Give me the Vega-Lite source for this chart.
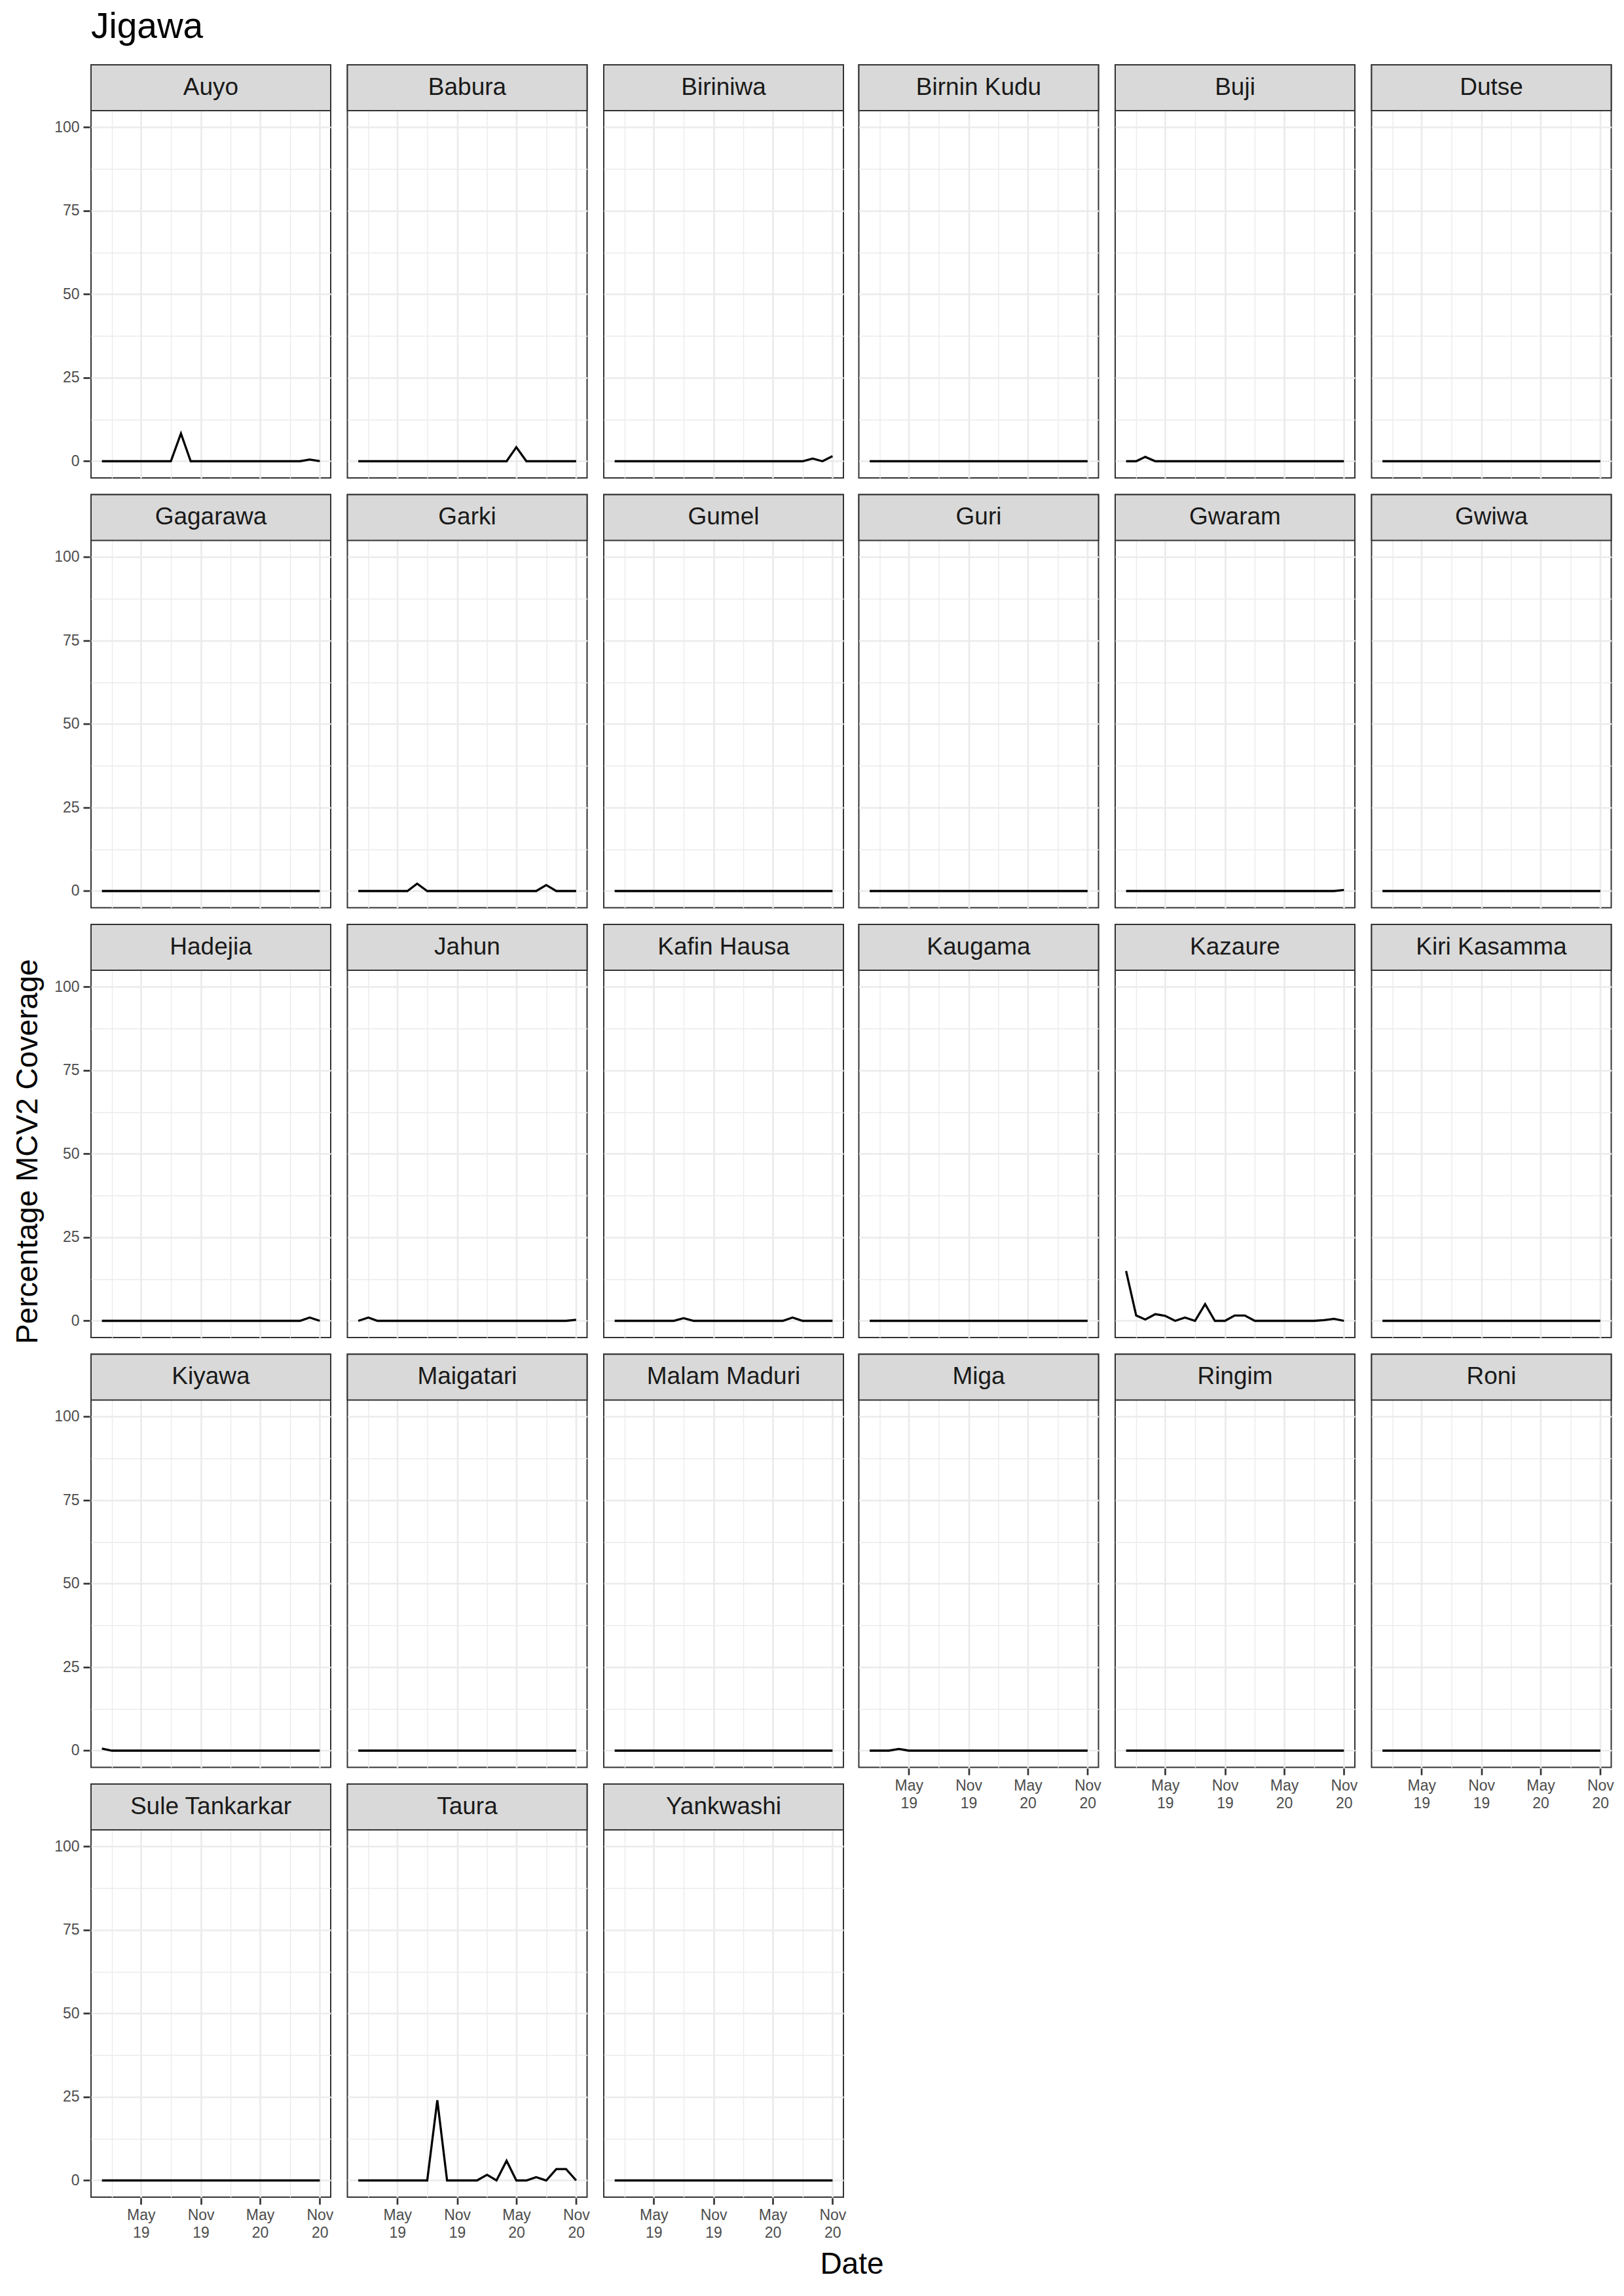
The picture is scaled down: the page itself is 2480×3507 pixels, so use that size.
{
"$schema": "https://vega.github.io/schema/vega-lite/v6.json",
"background": "white",
"padding": {"left": 19, "top": 14, "right": 20, "bottom": 10},
"title": {"text": "Jigawa", "anchor": "start", "frame": "group", "fontSize": 55, "font": "Liberation Sans", "fontWeight": "normal", "color": "#000000", "offset": 26},
"datasets": {"cov": [
{"district":"Auyo","date":"2019-01-01","value":0},{"district":"Auyo","date":"2019-02-01","value":0},{"district":"Auyo","date":"2019-03-01","value":0},{"district":"Auyo","date":"2019-04-01","value":0},{"district":"Auyo","date":"2019-05-01","value":0},{"district":"Auyo","date":"2019-06-01","value":0},{"district":"Auyo","date":"2019-07-01","value":0},{"district":"Auyo","date":"2019-08-01","value":0},{"district":"Auyo","date":"2019-09-01","value":8.3},{"district":"Auyo","date":"2019-10-01","value":0},{"district":"Auyo","date":"2019-11-01","value":0},{"district":"Auyo","date":"2019-12-01","value":0},{"district":"Auyo","date":"2020-01-01","value":0},{"district":"Auyo","date":"2020-02-01","value":0},{"district":"Auyo","date":"2020-03-01","value":0},{"district":"Auyo","date":"2020-04-01","value":0},{"district":"Auyo","date":"2020-05-01","value":0},{"district":"Auyo","date":"2020-06-01","value":0},{"district":"Auyo","date":"2020-07-01","value":0},{"district":"Auyo","date":"2020-08-01","value":0},{"district":"Auyo","date":"2020-09-01","value":0},{"district":"Auyo","date":"2020-10-01","value":0.5},{"district":"Auyo","date":"2020-11-01","value":0},
{"district":"Babura","date":"2019-01-01","value":0},{"district":"Babura","date":"2019-02-01","value":0},{"district":"Babura","date":"2019-03-01","value":0},{"district":"Babura","date":"2019-04-01","value":0},{"district":"Babura","date":"2019-05-01","value":0},{"district":"Babura","date":"2019-06-01","value":0},{"district":"Babura","date":"2019-07-01","value":0},{"district":"Babura","date":"2019-08-01","value":0},{"district":"Babura","date":"2019-09-01","value":0},{"district":"Babura","date":"2019-10-01","value":0},{"district":"Babura","date":"2019-11-01","value":0},{"district":"Babura","date":"2019-12-01","value":0},{"district":"Babura","date":"2020-01-01","value":0},{"district":"Babura","date":"2020-02-01","value":0},{"district":"Babura","date":"2020-03-01","value":0},{"district":"Babura","date":"2020-04-01","value":0},{"district":"Babura","date":"2020-05-01","value":4.2},{"district":"Babura","date":"2020-06-01","value":0},{"district":"Babura","date":"2020-07-01","value":0},{"district":"Babura","date":"2020-08-01","value":0},{"district":"Babura","date":"2020-09-01","value":0},{"district":"Babura","date":"2020-10-01","value":0},{"district":"Babura","date":"2020-11-01","value":0},
{"district":"Biriniwa","date":"2019-01-01","value":0},{"district":"Biriniwa","date":"2019-02-01","value":0},{"district":"Biriniwa","date":"2019-03-01","value":0},{"district":"Biriniwa","date":"2019-04-01","value":0},{"district":"Biriniwa","date":"2019-05-01","value":0},{"district":"Biriniwa","date":"2019-06-01","value":0},{"district":"Biriniwa","date":"2019-07-01","value":0},{"district":"Biriniwa","date":"2019-08-01","value":0},{"district":"Biriniwa","date":"2019-09-01","value":0},{"district":"Biriniwa","date":"2019-10-01","value":0},{"district":"Biriniwa","date":"2019-11-01","value":0},{"district":"Biriniwa","date":"2019-12-01","value":0},{"district":"Biriniwa","date":"2020-01-01","value":0},{"district":"Biriniwa","date":"2020-02-01","value":0},{"district":"Biriniwa","date":"2020-03-01","value":0},{"district":"Biriniwa","date":"2020-04-01","value":0},{"district":"Biriniwa","date":"2020-05-01","value":0},{"district":"Biriniwa","date":"2020-06-01","value":0},{"district":"Biriniwa","date":"2020-07-01","value":0},{"district":"Biriniwa","date":"2020-08-01","value":0},{"district":"Biriniwa","date":"2020-09-01","value":0.8},{"district":"Biriniwa","date":"2020-10-01","value":0},{"district":"Biriniwa","date":"2020-11-01","value":1.5},
{"district":"Birnin Kudu","date":"2019-01-01","value":0},{"district":"Birnin Kudu","date":"2019-02-01","value":0},{"district":"Birnin Kudu","date":"2019-03-01","value":0},{"district":"Birnin Kudu","date":"2019-04-01","value":0},{"district":"Birnin Kudu","date":"2019-05-01","value":0},{"district":"Birnin Kudu","date":"2019-06-01","value":0},{"district":"Birnin Kudu","date":"2019-07-01","value":0},{"district":"Birnin Kudu","date":"2019-08-01","value":0},{"district":"Birnin Kudu","date":"2019-09-01","value":0},{"district":"Birnin Kudu","date":"2019-10-01","value":0},{"district":"Birnin Kudu","date":"2019-11-01","value":0},{"district":"Birnin Kudu","date":"2019-12-01","value":0},{"district":"Birnin Kudu","date":"2020-01-01","value":0},{"district":"Birnin Kudu","date":"2020-02-01","value":0},{"district":"Birnin Kudu","date":"2020-03-01","value":0},{"district":"Birnin Kudu","date":"2020-04-01","value":0},{"district":"Birnin Kudu","date":"2020-05-01","value":0},{"district":"Birnin Kudu","date":"2020-06-01","value":0},{"district":"Birnin Kudu","date":"2020-07-01","value":0},{"district":"Birnin Kudu","date":"2020-08-01","value":0},{"district":"Birnin Kudu","date":"2020-09-01","value":0},{"district":"Birnin Kudu","date":"2020-10-01","value":0},{"district":"Birnin Kudu","date":"2020-11-01","value":0},
{"district":"Buji","date":"2019-01-01","value":0},{"district":"Buji","date":"2019-02-01","value":0},{"district":"Buji","date":"2019-03-01","value":1.3},{"district":"Buji","date":"2019-04-01","value":0},{"district":"Buji","date":"2019-05-01","value":0},{"district":"Buji","date":"2019-06-01","value":0},{"district":"Buji","date":"2019-07-01","value":0},{"district":"Buji","date":"2019-08-01","value":0},{"district":"Buji","date":"2019-09-01","value":0},{"district":"Buji","date":"2019-10-01","value":0},{"district":"Buji","date":"2019-11-01","value":0},{"district":"Buji","date":"2019-12-01","value":0},{"district":"Buji","date":"2020-01-01","value":0},{"district":"Buji","date":"2020-02-01","value":0},{"district":"Buji","date":"2020-03-01","value":0},{"district":"Buji","date":"2020-04-01","value":0},{"district":"Buji","date":"2020-05-01","value":0},{"district":"Buji","date":"2020-06-01","value":0},{"district":"Buji","date":"2020-07-01","value":0},{"district":"Buji","date":"2020-08-01","value":0},{"district":"Buji","date":"2020-09-01","value":0},{"district":"Buji","date":"2020-10-01","value":0},{"district":"Buji","date":"2020-11-01","value":0},
{"district":"Dutse","date":"2019-01-01","value":0},{"district":"Dutse","date":"2019-02-01","value":0},{"district":"Dutse","date":"2019-03-01","value":0},{"district":"Dutse","date":"2019-04-01","value":0},{"district":"Dutse","date":"2019-05-01","value":0},{"district":"Dutse","date":"2019-06-01","value":0},{"district":"Dutse","date":"2019-07-01","value":0},{"district":"Dutse","date":"2019-08-01","value":0},{"district":"Dutse","date":"2019-09-01","value":0},{"district":"Dutse","date":"2019-10-01","value":0},{"district":"Dutse","date":"2019-11-01","value":0},{"district":"Dutse","date":"2019-12-01","value":0},{"district":"Dutse","date":"2020-01-01","value":0},{"district":"Dutse","date":"2020-02-01","value":0},{"district":"Dutse","date":"2020-03-01","value":0},{"district":"Dutse","date":"2020-04-01","value":0},{"district":"Dutse","date":"2020-05-01","value":0},{"district":"Dutse","date":"2020-06-01","value":0},{"district":"Dutse","date":"2020-07-01","value":0},{"district":"Dutse","date":"2020-08-01","value":0},{"district":"Dutse","date":"2020-09-01","value":0},{"district":"Dutse","date":"2020-10-01","value":0},{"district":"Dutse","date":"2020-11-01","value":0},
{"district":"Gagarawa","date":"2019-01-01","value":0},{"district":"Gagarawa","date":"2019-02-01","value":0},{"district":"Gagarawa","date":"2019-03-01","value":0},{"district":"Gagarawa","date":"2019-04-01","value":0},{"district":"Gagarawa","date":"2019-05-01","value":0},{"district":"Gagarawa","date":"2019-06-01","value":0},{"district":"Gagarawa","date":"2019-07-01","value":0},{"district":"Gagarawa","date":"2019-08-01","value":0},{"district":"Gagarawa","date":"2019-09-01","value":0},{"district":"Gagarawa","date":"2019-10-01","value":0},{"district":"Gagarawa","date":"2019-11-01","value":0},{"district":"Gagarawa","date":"2019-12-01","value":0},{"district":"Gagarawa","date":"2020-01-01","value":0},{"district":"Gagarawa","date":"2020-02-01","value":0},{"district":"Gagarawa","date":"2020-03-01","value":0},{"district":"Gagarawa","date":"2020-04-01","value":0},{"district":"Gagarawa","date":"2020-05-01","value":0},{"district":"Gagarawa","date":"2020-06-01","value":0},{"district":"Gagarawa","date":"2020-07-01","value":0},{"district":"Gagarawa","date":"2020-08-01","value":0},{"district":"Gagarawa","date":"2020-09-01","value":0},{"district":"Gagarawa","date":"2020-10-01","value":0},{"district":"Gagarawa","date":"2020-11-01","value":0},
{"district":"Garki","date":"2019-01-01","value":0},{"district":"Garki","date":"2019-02-01","value":0},{"district":"Garki","date":"2019-03-01","value":0},{"district":"Garki","date":"2019-04-01","value":0},{"district":"Garki","date":"2019-05-01","value":0},{"district":"Garki","date":"2019-06-01","value":0},{"district":"Garki","date":"2019-07-01","value":2.2},{"district":"Garki","date":"2019-08-01","value":0},{"district":"Garki","date":"2019-09-01","value":0},{"district":"Garki","date":"2019-10-01","value":0},{"district":"Garki","date":"2019-11-01","value":0},{"district":"Garki","date":"2019-12-01","value":0},{"district":"Garki","date":"2020-01-01","value":0},{"district":"Garki","date":"2020-02-01","value":0},{"district":"Garki","date":"2020-03-01","value":0},{"district":"Garki","date":"2020-04-01","value":0},{"district":"Garki","date":"2020-05-01","value":0},{"district":"Garki","date":"2020-06-01","value":0},{"district":"Garki","date":"2020-07-01","value":0},{"district":"Garki","date":"2020-08-01","value":1.8},{"district":"Garki","date":"2020-09-01","value":0},{"district":"Garki","date":"2020-10-01","value":0},{"district":"Garki","date":"2020-11-01","value":0},
{"district":"Gumel","date":"2019-01-01","value":0},{"district":"Gumel","date":"2019-02-01","value":0},{"district":"Gumel","date":"2019-03-01","value":0},{"district":"Gumel","date":"2019-04-01","value":0},{"district":"Gumel","date":"2019-05-01","value":0},{"district":"Gumel","date":"2019-06-01","value":0},{"district":"Gumel","date":"2019-07-01","value":0},{"district":"Gumel","date":"2019-08-01","value":0},{"district":"Gumel","date":"2019-09-01","value":0},{"district":"Gumel","date":"2019-10-01","value":0},{"district":"Gumel","date":"2019-11-01","value":0},{"district":"Gumel","date":"2019-12-01","value":0},{"district":"Gumel","date":"2020-01-01","value":0},{"district":"Gumel","date":"2020-02-01","value":0},{"district":"Gumel","date":"2020-03-01","value":0},{"district":"Gumel","date":"2020-04-01","value":0},{"district":"Gumel","date":"2020-05-01","value":0},{"district":"Gumel","date":"2020-06-01","value":0},{"district":"Gumel","date":"2020-07-01","value":0},{"district":"Gumel","date":"2020-08-01","value":0},{"district":"Gumel","date":"2020-09-01","value":0},{"district":"Gumel","date":"2020-10-01","value":0},{"district":"Gumel","date":"2020-11-01","value":0},
{"district":"Guri","date":"2019-01-01","value":0},{"district":"Guri","date":"2019-02-01","value":0},{"district":"Guri","date":"2019-03-01","value":0},{"district":"Guri","date":"2019-04-01","value":0},{"district":"Guri","date":"2019-05-01","value":0},{"district":"Guri","date":"2019-06-01","value":0},{"district":"Guri","date":"2019-07-01","value":0},{"district":"Guri","date":"2019-08-01","value":0},{"district":"Guri","date":"2019-09-01","value":0},{"district":"Guri","date":"2019-10-01","value":0},{"district":"Guri","date":"2019-11-01","value":0},{"district":"Guri","date":"2019-12-01","value":0},{"district":"Guri","date":"2020-01-01","value":0},{"district":"Guri","date":"2020-02-01","value":0},{"district":"Guri","date":"2020-03-01","value":0},{"district":"Guri","date":"2020-04-01","value":0},{"district":"Guri","date":"2020-05-01","value":0},{"district":"Guri","date":"2020-06-01","value":0},{"district":"Guri","date":"2020-07-01","value":0},{"district":"Guri","date":"2020-08-01","value":0},{"district":"Guri","date":"2020-09-01","value":0},{"district":"Guri","date":"2020-10-01","value":0},{"district":"Guri","date":"2020-11-01","value":0},
{"district":"Gwaram","date":"2019-01-01","value":0},{"district":"Gwaram","date":"2019-02-01","value":0},{"district":"Gwaram","date":"2019-03-01","value":0},{"district":"Gwaram","date":"2019-04-01","value":0},{"district":"Gwaram","date":"2019-05-01","value":0},{"district":"Gwaram","date":"2019-06-01","value":0},{"district":"Gwaram","date":"2019-07-01","value":0},{"district":"Gwaram","date":"2019-08-01","value":0},{"district":"Gwaram","date":"2019-09-01","value":0},{"district":"Gwaram","date":"2019-10-01","value":0},{"district":"Gwaram","date":"2019-11-01","value":0},{"district":"Gwaram","date":"2019-12-01","value":0},{"district":"Gwaram","date":"2020-01-01","value":0},{"district":"Gwaram","date":"2020-02-01","value":0},{"district":"Gwaram","date":"2020-03-01","value":0},{"district":"Gwaram","date":"2020-04-01","value":0},{"district":"Gwaram","date":"2020-05-01","value":0},{"district":"Gwaram","date":"2020-06-01","value":0},{"district":"Gwaram","date":"2020-07-01","value":0},{"district":"Gwaram","date":"2020-08-01","value":0},{"district":"Gwaram","date":"2020-09-01","value":0},{"district":"Gwaram","date":"2020-10-01","value":0},{"district":"Gwaram","date":"2020-11-01","value":0.3},
{"district":"Gwiwa","date":"2019-01-01","value":0},{"district":"Gwiwa","date":"2019-02-01","value":0},{"district":"Gwiwa","date":"2019-03-01","value":0},{"district":"Gwiwa","date":"2019-04-01","value":0},{"district":"Gwiwa","date":"2019-05-01","value":0},{"district":"Gwiwa","date":"2019-06-01","value":0},{"district":"Gwiwa","date":"2019-07-01","value":0},{"district":"Gwiwa","date":"2019-08-01","value":0},{"district":"Gwiwa","date":"2019-09-01","value":0},{"district":"Gwiwa","date":"2019-10-01","value":0},{"district":"Gwiwa","date":"2019-11-01","value":0},{"district":"Gwiwa","date":"2019-12-01","value":0},{"district":"Gwiwa","date":"2020-01-01","value":0},{"district":"Gwiwa","date":"2020-02-01","value":0},{"district":"Gwiwa","date":"2020-03-01","value":0},{"district":"Gwiwa","date":"2020-04-01","value":0},{"district":"Gwiwa","date":"2020-05-01","value":0},{"district":"Gwiwa","date":"2020-06-01","value":0},{"district":"Gwiwa","date":"2020-07-01","value":0},{"district":"Gwiwa","date":"2020-08-01","value":0},{"district":"Gwiwa","date":"2020-09-01","value":0},{"district":"Gwiwa","date":"2020-10-01","value":0},{"district":"Gwiwa","date":"2020-11-01","value":0},
{"district":"Hadejia","date":"2019-01-01","value":0},{"district":"Hadejia","date":"2019-02-01","value":0},{"district":"Hadejia","date":"2019-03-01","value":0},{"district":"Hadejia","date":"2019-04-01","value":0},{"district":"Hadejia","date":"2019-05-01","value":0},{"district":"Hadejia","date":"2019-06-01","value":0},{"district":"Hadejia","date":"2019-07-01","value":0},{"district":"Hadejia","date":"2019-08-01","value":0},{"district":"Hadejia","date":"2019-09-01","value":0},{"district":"Hadejia","date":"2019-10-01","value":0},{"district":"Hadejia","date":"2019-11-01","value":0},{"district":"Hadejia","date":"2019-12-01","value":0},{"district":"Hadejia","date":"2020-01-01","value":0},{"district":"Hadejia","date":"2020-02-01","value":0},{"district":"Hadejia","date":"2020-03-01","value":0},{"district":"Hadejia","date":"2020-04-01","value":0},{"district":"Hadejia","date":"2020-05-01","value":0},{"district":"Hadejia","date":"2020-06-01","value":0},{"district":"Hadejia","date":"2020-07-01","value":0},{"district":"Hadejia","date":"2020-08-01","value":0},{"district":"Hadejia","date":"2020-09-01","value":0},{"district":"Hadejia","date":"2020-10-01","value":1.0},{"district":"Hadejia","date":"2020-11-01","value":0},
{"district":"Jahun","date":"2019-01-01","value":0},{"district":"Jahun","date":"2019-02-01","value":1.0},{"district":"Jahun","date":"2019-03-01","value":0},{"district":"Jahun","date":"2019-04-01","value":0},{"district":"Jahun","date":"2019-05-01","value":0},{"district":"Jahun","date":"2019-06-01","value":0},{"district":"Jahun","date":"2019-07-01","value":0},{"district":"Jahun","date":"2019-08-01","value":0},{"district":"Jahun","date":"2019-09-01","value":0},{"district":"Jahun","date":"2019-10-01","value":0},{"district":"Jahun","date":"2019-11-01","value":0},{"district":"Jahun","date":"2019-12-01","value":0},{"district":"Jahun","date":"2020-01-01","value":0},{"district":"Jahun","date":"2020-02-01","value":0},{"district":"Jahun","date":"2020-03-01","value":0},{"district":"Jahun","date":"2020-04-01","value":0},{"district":"Jahun","date":"2020-05-01","value":0},{"district":"Jahun","date":"2020-06-01","value":0},{"district":"Jahun","date":"2020-07-01","value":0},{"district":"Jahun","date":"2020-08-01","value":0},{"district":"Jahun","date":"2020-09-01","value":0},{"district":"Jahun","date":"2020-10-01","value":0},{"district":"Jahun","date":"2020-11-01","value":0.3},
{"district":"Kafin Hausa","date":"2019-01-01","value":0},{"district":"Kafin Hausa","date":"2019-02-01","value":0},{"district":"Kafin Hausa","date":"2019-03-01","value":0},{"district":"Kafin Hausa","date":"2019-04-01","value":0},{"district":"Kafin Hausa","date":"2019-05-01","value":0},{"district":"Kafin Hausa","date":"2019-06-01","value":0},{"district":"Kafin Hausa","date":"2019-07-01","value":0},{"district":"Kafin Hausa","date":"2019-08-01","value":0.8},{"district":"Kafin Hausa","date":"2019-09-01","value":0},{"district":"Kafin Hausa","date":"2019-10-01","value":0},{"district":"Kafin Hausa","date":"2019-11-01","value":0},{"district":"Kafin Hausa","date":"2019-12-01","value":0},{"district":"Kafin Hausa","date":"2020-01-01","value":0},{"district":"Kafin Hausa","date":"2020-02-01","value":0},{"district":"Kafin Hausa","date":"2020-03-01","value":0},{"district":"Kafin Hausa","date":"2020-04-01","value":0},{"district":"Kafin Hausa","date":"2020-05-01","value":0},{"district":"Kafin Hausa","date":"2020-06-01","value":0},{"district":"Kafin Hausa","date":"2020-07-01","value":1.0},{"district":"Kafin Hausa","date":"2020-08-01","value":0},{"district":"Kafin Hausa","date":"2020-09-01","value":0},{"district":"Kafin Hausa","date":"2020-10-01","value":0},{"district":"Kafin Hausa","date":"2020-11-01","value":0},
{"district":"Kaugama","date":"2019-01-01","value":0},{"district":"Kaugama","date":"2019-02-01","value":0},{"district":"Kaugama","date":"2019-03-01","value":0},{"district":"Kaugama","date":"2019-04-01","value":0},{"district":"Kaugama","date":"2019-05-01","value":0},{"district":"Kaugama","date":"2019-06-01","value":0},{"district":"Kaugama","date":"2019-07-01","value":0},{"district":"Kaugama","date":"2019-08-01","value":0},{"district":"Kaugama","date":"2019-09-01","value":0},{"district":"Kaugama","date":"2019-10-01","value":0},{"district":"Kaugama","date":"2019-11-01","value":0},{"district":"Kaugama","date":"2019-12-01","value":0},{"district":"Kaugama","date":"2020-01-01","value":0},{"district":"Kaugama","date":"2020-02-01","value":0},{"district":"Kaugama","date":"2020-03-01","value":0},{"district":"Kaugama","date":"2020-04-01","value":0},{"district":"Kaugama","date":"2020-05-01","value":0},{"district":"Kaugama","date":"2020-06-01","value":0},{"district":"Kaugama","date":"2020-07-01","value":0},{"district":"Kaugama","date":"2020-08-01","value":0},{"district":"Kaugama","date":"2020-09-01","value":0},{"district":"Kaugama","date":"2020-10-01","value":0},{"district":"Kaugama","date":"2020-11-01","value":0},
{"district":"Kazaure","date":"2019-01-01","value":14.9},{"district":"Kazaure","date":"2019-02-01","value":1.6},{"district":"Kazaure","date":"2019-03-01","value":0.4},{"district":"Kazaure","date":"2019-04-01","value":2.0},{"district":"Kazaure","date":"2019-05-01","value":1.5},{"district":"Kazaure","date":"2019-06-01","value":0},{"district":"Kazaure","date":"2019-07-01","value":1.0},{"district":"Kazaure","date":"2019-08-01","value":0},{"district":"Kazaure","date":"2019-09-01","value":5.0},{"district":"Kazaure","date":"2019-10-01","value":0},{"district":"Kazaure","date":"2019-11-01","value":0},{"district":"Kazaure","date":"2019-12-01","value":1.6},{"district":"Kazaure","date":"2020-01-01","value":1.6},{"district":"Kazaure","date":"2020-02-01","value":0},{"district":"Kazaure","date":"2020-03-01","value":0},{"district":"Kazaure","date":"2020-04-01","value":0},{"district":"Kazaure","date":"2020-05-01","value":0},{"district":"Kazaure","date":"2020-06-01","value":0},{"district":"Kazaure","date":"2020-07-01","value":0},{"district":"Kazaure","date":"2020-08-01","value":0},{"district":"Kazaure","date":"2020-09-01","value":0.2},{"district":"Kazaure","date":"2020-10-01","value":0.6},{"district":"Kazaure","date":"2020-11-01","value":0},
{"district":"Kiri Kasamma","date":"2019-01-01","value":0},{"district":"Kiri Kasamma","date":"2019-02-01","value":0},{"district":"Kiri Kasamma","date":"2019-03-01","value":0},{"district":"Kiri Kasamma","date":"2019-04-01","value":0},{"district":"Kiri Kasamma","date":"2019-05-01","value":0},{"district":"Kiri Kasamma","date":"2019-06-01","value":0},{"district":"Kiri Kasamma","date":"2019-07-01","value":0},{"district":"Kiri Kasamma","date":"2019-08-01","value":0},{"district":"Kiri Kasamma","date":"2019-09-01","value":0},{"district":"Kiri Kasamma","date":"2019-10-01","value":0},{"district":"Kiri Kasamma","date":"2019-11-01","value":0},{"district":"Kiri Kasamma","date":"2019-12-01","value":0},{"district":"Kiri Kasamma","date":"2020-01-01","value":0},{"district":"Kiri Kasamma","date":"2020-02-01","value":0},{"district":"Kiri Kasamma","date":"2020-03-01","value":0},{"district":"Kiri Kasamma","date":"2020-04-01","value":0},{"district":"Kiri Kasamma","date":"2020-05-01","value":0},{"district":"Kiri Kasamma","date":"2020-06-01","value":0},{"district":"Kiri Kasamma","date":"2020-07-01","value":0},{"district":"Kiri Kasamma","date":"2020-08-01","value":0},{"district":"Kiri Kasamma","date":"2020-09-01","value":0},{"district":"Kiri Kasamma","date":"2020-10-01","value":0},{"district":"Kiri Kasamma","date":"2020-11-01","value":0},
{"district":"Kiyawa","date":"2019-01-01","value":0.6},{"district":"Kiyawa","date":"2019-02-01","value":0},{"district":"Kiyawa","date":"2019-03-01","value":0},{"district":"Kiyawa","date":"2019-04-01","value":0},{"district":"Kiyawa","date":"2019-05-01","value":0},{"district":"Kiyawa","date":"2019-06-01","value":0},{"district":"Kiyawa","date":"2019-07-01","value":0},{"district":"Kiyawa","date":"2019-08-01","value":0},{"district":"Kiyawa","date":"2019-09-01","value":0},{"district":"Kiyawa","date":"2019-10-01","value":0},{"district":"Kiyawa","date":"2019-11-01","value":0},{"district":"Kiyawa","date":"2019-12-01","value":0},{"district":"Kiyawa","date":"2020-01-01","value":0},{"district":"Kiyawa","date":"2020-02-01","value":0},{"district":"Kiyawa","date":"2020-03-01","value":0},{"district":"Kiyawa","date":"2020-04-01","value":0},{"district":"Kiyawa","date":"2020-05-01","value":0},{"district":"Kiyawa","date":"2020-06-01","value":0},{"district":"Kiyawa","date":"2020-07-01","value":0},{"district":"Kiyawa","date":"2020-08-01","value":0},{"district":"Kiyawa","date":"2020-09-01","value":0},{"district":"Kiyawa","date":"2020-10-01","value":0},{"district":"Kiyawa","date":"2020-11-01","value":0},
{"district":"Maigatari","date":"2019-01-01","value":0},{"district":"Maigatari","date":"2019-02-01","value":0},{"district":"Maigatari","date":"2019-03-01","value":0},{"district":"Maigatari","date":"2019-04-01","value":0},{"district":"Maigatari","date":"2019-05-01","value":0},{"district":"Maigatari","date":"2019-06-01","value":0},{"district":"Maigatari","date":"2019-07-01","value":0},{"district":"Maigatari","date":"2019-08-01","value":0},{"district":"Maigatari","date":"2019-09-01","value":0},{"district":"Maigatari","date":"2019-10-01","value":0},{"district":"Maigatari","date":"2019-11-01","value":0},{"district":"Maigatari","date":"2019-12-01","value":0},{"district":"Maigatari","date":"2020-01-01","value":0},{"district":"Maigatari","date":"2020-02-01","value":0},{"district":"Maigatari","date":"2020-03-01","value":0},{"district":"Maigatari","date":"2020-04-01","value":0},{"district":"Maigatari","date":"2020-05-01","value":0},{"district":"Maigatari","date":"2020-06-01","value":0},{"district":"Maigatari","date":"2020-07-01","value":0},{"district":"Maigatari","date":"2020-08-01","value":0},{"district":"Maigatari","date":"2020-09-01","value":0},{"district":"Maigatari","date":"2020-10-01","value":0},{"district":"Maigatari","date":"2020-11-01","value":0},
{"district":"Malam Maduri","date":"2019-01-01","value":0},{"district":"Malam Maduri","date":"2019-02-01","value":0},{"district":"Malam Maduri","date":"2019-03-01","value":0},{"district":"Malam Maduri","date":"2019-04-01","value":0},{"district":"Malam Maduri","date":"2019-05-01","value":0},{"district":"Malam Maduri","date":"2019-06-01","value":0},{"district":"Malam Maduri","date":"2019-07-01","value":0},{"district":"Malam Maduri","date":"2019-08-01","value":0},{"district":"Malam Maduri","date":"2019-09-01","value":0},{"district":"Malam Maduri","date":"2019-10-01","value":0},{"district":"Malam Maduri","date":"2019-11-01","value":0},{"district":"Malam Maduri","date":"2019-12-01","value":0},{"district":"Malam Maduri","date":"2020-01-01","value":0},{"district":"Malam Maduri","date":"2020-02-01","value":0},{"district":"Malam Maduri","date":"2020-03-01","value":0},{"district":"Malam Maduri","date":"2020-04-01","value":0},{"district":"Malam Maduri","date":"2020-05-01","value":0},{"district":"Malam Maduri","date":"2020-06-01","value":0},{"district":"Malam Maduri","date":"2020-07-01","value":0},{"district":"Malam Maduri","date":"2020-08-01","value":0},{"district":"Malam Maduri","date":"2020-09-01","value":0},{"district":"Malam Maduri","date":"2020-10-01","value":0},{"district":"Malam Maduri","date":"2020-11-01","value":0},
{"district":"Miga","date":"2019-01-01","value":0},{"district":"Miga","date":"2019-02-01","value":0},{"district":"Miga","date":"2019-03-01","value":0},{"district":"Miga","date":"2019-04-01","value":0.5},{"district":"Miga","date":"2019-05-01","value":0},{"district":"Miga","date":"2019-06-01","value":0},{"district":"Miga","date":"2019-07-01","value":0},{"district":"Miga","date":"2019-08-01","value":0},{"district":"Miga","date":"2019-09-01","value":0},{"district":"Miga","date":"2019-10-01","value":0},{"district":"Miga","date":"2019-11-01","value":0},{"district":"Miga","date":"2019-12-01","value":0},{"district":"Miga","date":"2020-01-01","value":0},{"district":"Miga","date":"2020-02-01","value":0},{"district":"Miga","date":"2020-03-01","value":0},{"district":"Miga","date":"2020-04-01","value":0},{"district":"Miga","date":"2020-05-01","value":0},{"district":"Miga","date":"2020-06-01","value":0},{"district":"Miga","date":"2020-07-01","value":0},{"district":"Miga","date":"2020-08-01","value":0},{"district":"Miga","date":"2020-09-01","value":0},{"district":"Miga","date":"2020-10-01","value":0},{"district":"Miga","date":"2020-11-01","value":0},
{"district":"Ringim","date":"2019-01-01","value":0},{"district":"Ringim","date":"2019-02-01","value":0},{"district":"Ringim","date":"2019-03-01","value":0},{"district":"Ringim","date":"2019-04-01","value":0},{"district":"Ringim","date":"2019-05-01","value":0},{"district":"Ringim","date":"2019-06-01","value":0},{"district":"Ringim","date":"2019-07-01","value":0},{"district":"Ringim","date":"2019-08-01","value":0},{"district":"Ringim","date":"2019-09-01","value":0},{"district":"Ringim","date":"2019-10-01","value":0},{"district":"Ringim","date":"2019-11-01","value":0},{"district":"Ringim","date":"2019-12-01","value":0},{"district":"Ringim","date":"2020-01-01","value":0},{"district":"Ringim","date":"2020-02-01","value":0},{"district":"Ringim","date":"2020-03-01","value":0},{"district":"Ringim","date":"2020-04-01","value":0},{"district":"Ringim","date":"2020-05-01","value":0},{"district":"Ringim","date":"2020-06-01","value":0},{"district":"Ringim","date":"2020-07-01","value":0},{"district":"Ringim","date":"2020-08-01","value":0},{"district":"Ringim","date":"2020-09-01","value":0},{"district":"Ringim","date":"2020-10-01","value":0},{"district":"Ringim","date":"2020-11-01","value":0},
{"district":"Roni","date":"2019-01-01","value":0},{"district":"Roni","date":"2019-02-01","value":0},{"district":"Roni","date":"2019-03-01","value":0},{"district":"Roni","date":"2019-04-01","value":0},{"district":"Roni","date":"2019-05-01","value":0},{"district":"Roni","date":"2019-06-01","value":0},{"district":"Roni","date":"2019-07-01","value":0},{"district":"Roni","date":"2019-08-01","value":0},{"district":"Roni","date":"2019-09-01","value":0},{"district":"Roni","date":"2019-10-01","value":0},{"district":"Roni","date":"2019-11-01","value":0},{"district":"Roni","date":"2019-12-01","value":0},{"district":"Roni","date":"2020-01-01","value":0},{"district":"Roni","date":"2020-02-01","value":0},{"district":"Roni","date":"2020-03-01","value":0},{"district":"Roni","date":"2020-04-01","value":0},{"district":"Roni","date":"2020-05-01","value":0},{"district":"Roni","date":"2020-06-01","value":0},{"district":"Roni","date":"2020-07-01","value":0},{"district":"Roni","date":"2020-08-01","value":0},{"district":"Roni","date":"2020-09-01","value":0},{"district":"Roni","date":"2020-10-01","value":0},{"district":"Roni","date":"2020-11-01","value":0},
{"district":"Sule Tankarkar","date":"2019-01-01","value":0},{"district":"Sule Tankarkar","date":"2019-02-01","value":0},{"district":"Sule Tankarkar","date":"2019-03-01","value":0},{"district":"Sule Tankarkar","date":"2019-04-01","value":0},{"district":"Sule Tankarkar","date":"2019-05-01","value":0},{"district":"Sule Tankarkar","date":"2019-06-01","value":0},{"district":"Sule Tankarkar","date":"2019-07-01","value":0},{"district":"Sule Tankarkar","date":"2019-08-01","value":0},{"district":"Sule Tankarkar","date":"2019-09-01","value":0},{"district":"Sule Tankarkar","date":"2019-10-01","value":0},{"district":"Sule Tankarkar","date":"2019-11-01","value":0},{"district":"Sule Tankarkar","date":"2019-12-01","value":0},{"district":"Sule Tankarkar","date":"2020-01-01","value":0},{"district":"Sule Tankarkar","date":"2020-02-01","value":0},{"district":"Sule Tankarkar","date":"2020-03-01","value":0},{"district":"Sule Tankarkar","date":"2020-04-01","value":0},{"district":"Sule Tankarkar","date":"2020-05-01","value":0},{"district":"Sule Tankarkar","date":"2020-06-01","value":0},{"district":"Sule Tankarkar","date":"2020-07-01","value":0},{"district":"Sule Tankarkar","date":"2020-08-01","value":0},{"district":"Sule Tankarkar","date":"2020-09-01","value":0},{"district":"Sule Tankarkar","date":"2020-10-01","value":0},{"district":"Sule Tankarkar","date":"2020-11-01","value":0},
{"district":"Taura","date":"2019-01-01","value":0},{"district":"Taura","date":"2019-02-01","value":0},{"district":"Taura","date":"2019-03-01","value":0},{"district":"Taura","date":"2019-04-01","value":0},{"district":"Taura","date":"2019-05-01","value":0},{"district":"Taura","date":"2019-06-01","value":0},{"district":"Taura","date":"2019-07-01","value":0},{"district":"Taura","date":"2019-08-01","value":0},{"district":"Taura","date":"2019-09-01","value":24.0},{"district":"Taura","date":"2019-10-01","value":0},{"district":"Taura","date":"2019-11-01","value":0},{"district":"Taura","date":"2019-12-01","value":0},{"district":"Taura","date":"2020-01-01","value":0},{"district":"Taura","date":"2020-02-01","value":1.7},{"district":"Taura","date":"2020-03-01","value":0},{"district":"Taura","date":"2020-04-01","value":5.9},{"district":"Taura","date":"2020-05-01","value":0},{"district":"Taura","date":"2020-06-01","value":0},{"district":"Taura","date":"2020-07-01","value":1.0},{"district":"Taura","date":"2020-08-01","value":0},{"district":"Taura","date":"2020-09-01","value":3.4},{"district":"Taura","date":"2020-10-01","value":3.4},{"district":"Taura","date":"2020-11-01","value":0},
{"district":"Yankwashi","date":"2019-01-01","value":0},{"district":"Yankwashi","date":"2019-02-01","value":0},{"district":"Yankwashi","date":"2019-03-01","value":0},{"district":"Yankwashi","date":"2019-04-01","value":0},{"district":"Yankwashi","date":"2019-05-01","value":0},{"district":"Yankwashi","date":"2019-06-01","value":0},{"district":"Yankwashi","date":"2019-07-01","value":0},{"district":"Yankwashi","date":"2019-08-01","value":0},{"district":"Yankwashi","date":"2019-09-01","value":0},{"district":"Yankwashi","date":"2019-10-01","value":0},{"district":"Yankwashi","date":"2019-11-01","value":0},{"district":"Yankwashi","date":"2019-12-01","value":0},{"district":"Yankwashi","date":"2020-01-01","value":0},{"district":"Yankwashi","date":"2020-02-01","value":0},{"district":"Yankwashi","date":"2020-03-01","value":0},{"district":"Yankwashi","date":"2020-04-01","value":0},{"district":"Yankwashi","date":"2020-05-01","value":0},{"district":"Yankwashi","date":"2020-06-01","value":0},{"district":"Yankwashi","date":"2020-07-01","value":0},{"district":"Yankwashi","date":"2020-08-01","value":0},{"district":"Yankwashi","date":"2020-09-01","value":0},{"district":"Yankwashi","date":"2020-10-01","value":0},{"district":"Yankwashi","date":"2020-11-01","value":0}
]},
"data": {"name": "cov"},
"vconcat": [
 {
  "title": {"text": "Date", "orient": "bottom", "anchor": "middle", "fontSize": 46, "font": "Liberation Sans", "fontWeight": "normal", "color": "#000000", "offset": 15, "dx": 59},
  "vconcat": [
   {
    "title": {"text": "Percentage MCV2 Coverage", "orient": "left", "anchor": "middle", "fontSize": 46, "font": "Liberation Sans", "fontWeight": "normal", "color": "#000000", "offset": 16},
    "spacing": 17.5,
    "hconcat": [
     {
      "transform": [{"filter": {"field": "district", "oneOf": ["Auyo","Babura","Biriniwa","Gagarawa","Garki","Gumel","Hadejia","Jahun","Kafin Hausa","Kiyawa","Maigatari","Malam Maduri","Sule Tankarkar","Taura","Yankwashi"]}}],
      "facet": {"field": "district", "type": "nominal", "title": null,
        "header": {"labels": false, "labelExpr": "''", "labelFontSize": 1, "labelPadding": 0, "title": null},
        "sort": ["Auyo","Babura","Biriniwa","Gagarawa","Garki","Gumel","Hadejia","Jahun","Kafin Hausa","Kiyawa","Maigatari","Malam Maduri","Sule Tankarkar","Taura","Yankwashi"]},
      "columns": 3,
      "spacing": {"row": 21.5, "column": 21.5},
      "spec": {
        "width": 366,
        "height": 631,
        "layer": [
          {
            "mark": {"type": "line", "color": "#000000", "strokeWidth": 3.3, "strokeJoin": "miter"},
            "encoding": {
              "x": {"field": "date", "type": "temporal", "title": null,
                "scale": {"type": "utc", "domain": [{"year": 2018, "month": 11, "date": 28, "hours": 12, "utc": true}, {"year": 2020, "month": 12, "date": 4, "hours": 12, "utc": true}]},
                "axis": {
                  "title": null,
                  "values": [{"year": 2019, "month": 2, "date": 1, "utc": true}, {"year": 2019, "month": 5, "date": 1, "utc": true}, {"year": 2019, "month": 8, "date": 1, "utc": true}, {"year": 2019, "month": 11, "date": 1, "utc": true}, {"year": 2020, "month": 2, "date": 1, "utc": true}, {"year": 2020, "month": 5, "date": 1, "utc": true}, {"year": 2020, "month": 8, "date": 1, "utc": true}, {"year": 2020, "month": 11, "date": 1, "utc": true}],
                  "labelExpr": "(utcmonth(datum.value) == 1 || utcmonth(datum.value) == 7) ? '' : [utcFormat(datum.value, '%b'), '  ' + utcFormat(datum.value, '%y')]",
                  "tickOpacity": {"condition": {"test": "utcmonth(datum.value) == 1 || utcmonth(datum.value) == 7", "value": 0}, "value": 1},
                  "gridWidth": {"condition": {"test": "utcmonth(datum.value) == 1 || utcmonth(datum.value) == 7", "value": 1.4}, "value": 2.7},
                  "labelOverlap": false, "labelFlush": false, "labelLineHeight": 27, "labelPadding": 5
                }
              },
              "y": {"field": "value", "type": "quantitative", "title": null,
                "scale": {"domain": [-5, 118.7], "nice": false, "zero": false},
                "axis": {
                  "title": null,
                  "values": [0, 12.5, 25, 37.5, 50, 62.5, 75, 87.5, 100],
                  "labelExpr": "datum.value % 25 == 0 ? format(datum.value, 'd') : ''",
                  "tickOpacity": {"condition": {"test": "datum.value % 25 != 0", "value": 0}, "value": 1},
                  "gridWidth": {"condition": {"test": "datum.value % 25 != 0", "value": 1.4}, "value": 2.7},
                  "labelOverlap": false, "labelFlush": false, "labelPadding": 6
                }
              }
            }
          },
          {
            "transform": [{"filter": "utcyear(datum.date) == 2019 && utcmonth(datum.date) == 0"}],
            "mark": {"type": "rect", "fill": "#D9D9D9", "stroke": "#333333", "strokeWidth": 2},
            "encoding": {
              "y": {"datum": 105, "type": "quantitative", "title": null},
              "y2": {"datum": 118.7}
            }
          },
          {
            "transform": [{"filter": "utcyear(datum.date) == 2019 && utcmonth(datum.date) == 0"}],
            "mark": {"type": "text", "fontSize": 37, "font": "Liberation Sans", "color": "#1A1A1A", "baseline": "middle", "align": "center"},
            "encoding": {
              "y": {"datum": 111.85, "type": "quantitative", "title": null},
              "text": {"field": "district", "type": "nominal"}
            }
          }
        ]
      }
     },
     {
      "transform": [{"filter": {"field": "district", "oneOf": ["Birnin Kudu","Buji","Dutse","Guri","Gwaram","Gwiwa","Kaugama","Kazaure","Kiri Kasamma","Miga","Ringim","Roni"]}}],
      "facet": {"field": "district", "type": "nominal", "title": null,
        "header": {"labels": false, "labelExpr": "''", "labelFontSize": 1, "labelPadding": 0, "title": null},
        "sort": ["Birnin Kudu","Buji","Dutse","Guri","Gwaram","Gwiwa","Kaugama","Kazaure","Kiri Kasamma","Miga","Ringim","Roni"]},
      "columns": 3,
      "spacing": {"row": 21.5, "column": 21.5},
      "spec": {
        "width": 366,
        "height": 631,
        "layer": [
          {
            "mark": {"type": "line", "color": "#000000", "strokeWidth": 3.3, "strokeJoin": "miter"},
            "encoding": {
              "x": {"field": "date", "type": "temporal", "title": null,
                "scale": {"type": "utc", "domain": [{"year": 2018, "month": 11, "date": 28, "hours": 12, "utc": true}, {"year": 2020, "month": 12, "date": 4, "hours": 12, "utc": true}]},
                "axis": {
                  "title": null,
                  "values": [{"year": 2019, "month": 2, "date": 1, "utc": true}, {"year": 2019, "month": 5, "date": 1, "utc": true}, {"year": 2019, "month": 8, "date": 1, "utc": true}, {"year": 2019, "month": 11, "date": 1, "utc": true}, {"year": 2020, "month": 2, "date": 1, "utc": true}, {"year": 2020, "month": 5, "date": 1, "utc": true}, {"year": 2020, "month": 8, "date": 1, "utc": true}, {"year": 2020, "month": 11, "date": 1, "utc": true}],
                  "labelExpr": "(utcmonth(datum.value) == 1 || utcmonth(datum.value) == 7) ? '' : [utcFormat(datum.value, '%b'), '  ' + utcFormat(datum.value, '%y')]",
                  "tickOpacity": {"condition": {"test": "utcmonth(datum.value) == 1 || utcmonth(datum.value) == 7", "value": 0}, "value": 1},
                  "gridWidth": {"condition": {"test": "utcmonth(datum.value) == 1 || utcmonth(datum.value) == 7", "value": 1.4}, "value": 2.7},
                  "labelOverlap": false, "labelFlush": false, "labelLineHeight": 27, "labelPadding": 5
                }
              },
              "y": {"field": "value", "type": "quantitative", "title": null,
                "scale": {"domain": [-5, 118.7], "nice": false, "zero": false},
                "axis": {
                  "title": null, "labels": false, "ticks": false,
                  "values": [0, 12.5, 25, 37.5, 50, 62.5, 75, 87.5, 100],
                  "gridWidth": {"condition": {"test": "datum.value % 25 != 0", "value": 1.4}, "value": 2.7}
                }
              }
            }
          },
          {
            "transform": [{"filter": "utcyear(datum.date) == 2019 && utcmonth(datum.date) == 0"}],
            "mark": {"type": "rect", "fill": "#D9D9D9", "stroke": "#333333", "strokeWidth": 2},
            "encoding": {
              "y": {"datum": 105, "type": "quantitative", "title": null},
              "y2": {"datum": 118.7}
            }
          },
          {
            "transform": [{"filter": "utcyear(datum.date) == 2019 && utcmonth(datum.date) == 0"}],
            "mark": {"type": "text", "fontSize": 37, "font": "Liberation Sans", "color": "#1A1A1A", "baseline": "middle", "align": "center"},
            "encoding": {
              "y": {"datum": 111.85, "type": "quantitative", "title": null},
              "text": {"field": "district", "type": "nominal"}
            }
          }
        ]
      }
     }
    ]
   }
  ]
 }
],
"config": {
  "font": "Liberation Sans",
  "view": {"stroke": "#333333", "strokeWidth": 2},
  "header": {"labels": false, "title": null},
  "axis": {
    "grid": true, "gridColor": "#EBEBEB", "domain": false,
    "tickColor": "#333333", "tickSize": 10, "tickWidth": 2.7,
    "labelFont": "Liberation Sans", "labelFontSize": 23, "labelColor": "#4D4D4D",
    "titleFont": "Liberation Sans", "titleFontSize": 46, "titleFontWeight": "normal", "titleColor": "#000000"
  },
  "title": {"font": "Liberation Sans"}
}
}
